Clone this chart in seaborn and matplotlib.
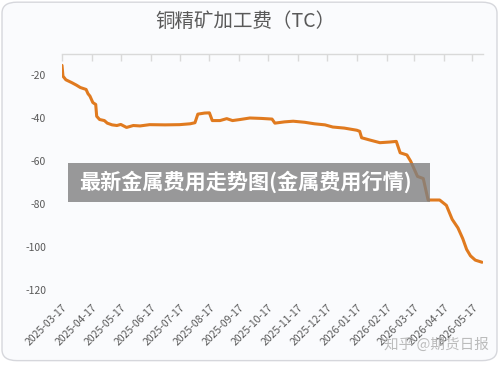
"""
铜精矿加工费（TC）走势图
"""
import pandas as pd
import matplotlib
matplotlib.use('Agg')
import matplotlib.pyplot as plt
from matplotlib.patches import FancyBboxPatch, Rectangle
import seaborn as sns

# --- 数据 ---
dates = [
    '2025-03-17', '2025-03-18', '2025-03-21', '2025-03-27', '2025-04-01',
    '2025-04-05', '2025-04-11', '2025-04-13', '2025-04-15', '2025-04-18',
    '2025-04-21', '2025-04-22', '2025-04-25', '2025-04-30', '2025-05-03',
    '2025-05-08', '2025-05-13', '2025-05-17', '2025-05-23', '2025-05-30',
    '2025-06-06', '2025-06-16', '2025-07-02', '2025-07-17', '2025-07-28',
    '2025-08-02', '2025-08-05', '2025-08-12', '2025-08-17', '2025-08-20',
    '2025-08-28', '2025-09-04', '2025-09-10', '2025-09-18', '2025-09-28',
    '2025-10-10', '2025-10-21', '2025-10-24', '2025-11-03', '2025-11-12',
    '2025-11-24', '2025-12-04', '2025-12-15', '2025-12-23', '2026-01-04',
    '2026-01-17', '2026-01-20', '2026-01-22', '2026-01-30', '2026-02-10',
    '2026-02-20', '2026-02-27', '2026-03-03', '2026-03-10', '2026-03-14',
    '2026-03-17', '2026-03-21', '2026-03-27', '2026-04-01', '2026-04-13',
    '2026-04-20', '2026-04-26', '2026-05-02', '2026-05-07', '2026-05-11',
    '2026-05-15', '2026-05-20', '2026-05-27',
]
tc_values = [
    -15.3, -20.3, -22.0, -23.3, -24.5,
    -25.6, -26.5, -28.5, -29.6, -32.6,
    -33.5, -39.0, -40.5, -41.0, -42.2,
    -43.0, -43.3, -42.8, -44.2, -43.3,
    -43.5, -42.9, -43.0, -42.9, -42.5,
    -42.0, -38.0, -37.5, -37.4, -41.0,
    -41.0, -40.1, -41.0, -40.5, -39.8,
    -40.0, -40.3, -42.2, -41.6, -41.3,
    -41.8, -42.5, -43.0, -44.0, -44.5,
    -45.5, -46.0, -49.0, -50.0, -51.3,
    -51.0, -50.7, -56.0, -57.0, -60.0,
    -63.0, -67.0, -68.0, -78.0, -78.0,
    -80.5, -87.0, -91.0, -96.0, -101.0,
    -104.0, -106.0, -107.0,
]
y_ticks = [-20, -40, -60, -80, -100, -120]

title_text = '铜精矿加工费（TC）'
banner_text = '最新金属费用走势图(金属费用行情)'
mark_text = '知乎 @期货日报'

# --- 样式 ---
sns.set_style('white')
plt.rcParams['font.family'] = ['Noto Sans CJK SC', 'DejaVu Sans']
plt.rcParams['axes.unicode_minus'] = False

df = pd.DataFrame({'date': pd.to_datetime(dates), 'tc': tc_values})

fig = plt.figure(figsize=(5, 3.65), dpi=100)
fig.patch.set_facecolor('white')

# 卡片背景 (圆角), 放在坐标轴下面
card = FancyBboxPatch((0.004, 0.012), 0.99, 0.982, boxstyle='round,pad=0,rounding_size=0.03',
                      transform=fig.transFigure, facecolor='#fafbfd', edgecolor='#d6d7dc',
                      linewidth=1.0, zorder=-1)
fig.patches.append(card)

ax = fig.add_axes([0.124, 0.205, 0.842, 0.647])
ax.set_facecolor('none')

sns.lineplot(data=df, x='date', y='tc', ax=ax, color='#e07a1f', linewidth=2.2)

ax.set_ylim(-120, -10)
ax.set_xlim(pd.Timestamp('2025-03-17'), pd.Timestamp('2026-05-28'))
ax.set_yticks(y_ticks)
ax.set_yticklabels([str(v) for v in y_ticks])

month_ticks = pd.date_range('2025-03-17', '2026-05-17', freq=pd.DateOffset(months=1))
ax.set_xticks(month_ticks)
ax.set_xticklabels([d.strftime('%Y-%m-%d') for d in month_ticks], rotation=45,
                   ha='right', rotation_mode='anchor')

ax.set_xlabel('')
ax.set_ylabel('')

for side in ['left', 'right', 'bottom']:
    ax.spines[side].set_visible(False)
ax.spines['top'].set_color('#d9d9d9')
ax.spines['top'].set_linewidth(1.0)

ax.tick_params(axis='x', bottom=False, top=True, direction='in', length=5, width=1,
               color='#d9d9d9', labelsize=7.5, labelcolor='#595959', pad=9)
ax.tick_params(axis='y', left=False, labelsize=7.5, labelcolor='#595959', pad=8)

# 标题
fig.text(0.49, 0.94, title_text, ha='center', va='center', fontsize=14, color='#595959')

# 灰色横幅
banner = Rectangle((0.136, 0.447), 0.724, 0.107, transform=fig.transFigure,
                   facecolor='#808080', alpha=0.8, edgecolor='none', zorder=5)
fig.patches.append(banner)
fig.text(0.158, 0.502, banner_text, ha='left', va='center', fontsize=15.2,
         fontweight='bold', color='white', zorder=6)

# 水印
fig.text(0.978, 0.055, mark_text, ha='right', va='center', fontsize=10.5,
         color='#b5b5b5', alpha=0.9, zorder=6)

plt.savefig('out.png', dpi=100, facecolor=fig.get_facecolor())
plt.close()
